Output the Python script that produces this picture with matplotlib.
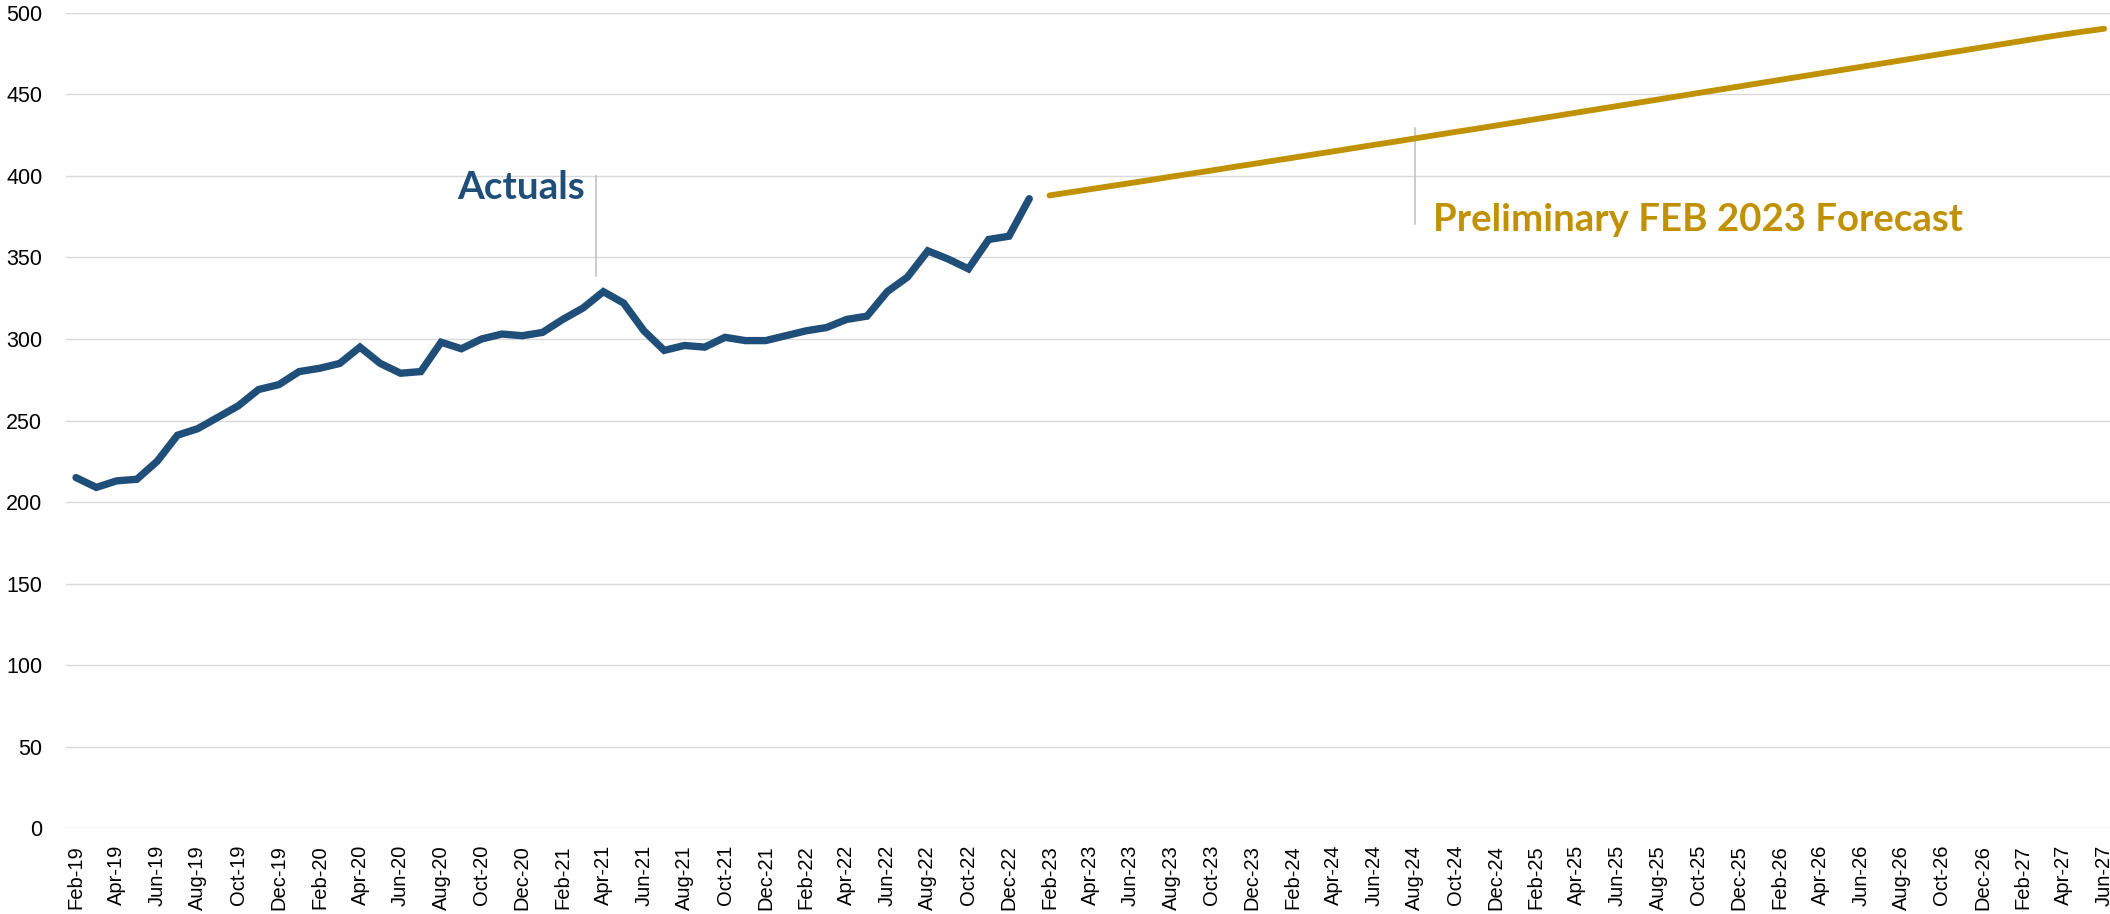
import pandas as pd
import matplotlib
matplotlib.use("Agg")
import matplotlib.pyplot as plt

# monthly categories Feb-19 .. Jun-27
months = pd.date_range("2019-02-01", "2027-06-01", freq="MS").strftime("%b-%y").tolist()

# actuals Feb-19 .. Jan-23
actuals = [215, 209, 213, 214, 225, 241, 245, 252, 259, 269,
           272, 280, 282, 285, 295, 285, 279, 280, 298, 294,
           300, 303, 302, 304, 312, 319, 329, 322, 305, 293,
           296, 295, 301, 299, 299, 302, 305, 307, 312, 314,
           329, 338, 354, 349, 343, 361, 363, 386]

# preliminary forecast Feb-23 .. Jun-27
forecast = [388.0, 389.9, 391.8, 393.7, 395.6, 397.5, 399.5, 401.4, 403.3, 405.3,
            407.2, 409.2, 411.1, 413.1, 415.0, 417.0, 419.0, 420.9, 422.9, 424.9,
            426.9, 428.8, 430.8, 432.8, 434.8, 436.8, 438.8, 440.8, 442.8, 444.8,
            446.8, 448.8, 450.8, 452.8, 454.8, 456.8, 458.8, 460.8, 462.8, 464.8,
            466.8, 468.8, 470.8, 472.8, 474.8, 476.8, 478.8, 480.8, 482.8, 484.8,
            486.7, 488.5, 490.2]

yticks = [0, 50, 100, 150, 200, 250, 300, 350, 400, 450, 500]

BLUE = "#1F4E79"
GOLD = "#C09100"

x_act = list(range(len(actuals)))
x_fc = list(range(len(actuals), len(actuals) + len(forecast)))

fig = plt.figure(figsize=(21.10, 9.14), dpi=100)
ax = fig.add_axes([0.03123, 0.09376, 0.9708, 0.8923])

ax.plot(x_act, actuals, color=BLUE, lw=5.3, solid_capstyle="round", solid_joinstyle="miter", zorder=3)
ax.plot(x_fc, forecast, color=GOLD, lw=4.2, solid_capstyle="round", zorder=3)

# annotation markers
ax.plot([25.64, 25.64], [338.5, 400], color="#BFBFBF", lw=1.1, zorder=2)
ax.plot([66.0, 66.0], [370.5, 429.5], color="#BFBFBF", lw=1.1, zorder=2)

ax.text(25.1, 385.6, "Actuals", color=BLUE, fontsize=27.8, fontweight="bold",
        family="Lato", ha="right", va="baseline")
ax.text(66.93, 366.4, "Preliminary FEB 2023 Forecast", color=GOLD, fontsize=27.6,
        fontweight="bold", family="Lato", ha="left", va="baseline")

ax.set_xlim(-0.5, len(months) - 0.5)
ax.set_ylim(0, 500)
ax.set_yticks(yticks)
ax.set_xticks(range(0, len(months), 2))
ax.set_xticklabels(months[::2], rotation=90, fontsize=14.5, family="Liberation Sans")
for lab in ax.get_yticklabels():
    lab.set_family("Liberation Sans")
    lab.set_fontsize(15.5)

ax.yaxis.grid(True, color="#D9D9D9", lw=1.0)
ax.set_axisbelow(True)
for s in ax.spines.values():
    s.set_visible(False)
ax.tick_params(axis="both", length=0)
ax.tick_params(axis="x", pad=12)
ax.tick_params(axis="y", pad=17)

fig.savefig("out.png", dpi=100)
